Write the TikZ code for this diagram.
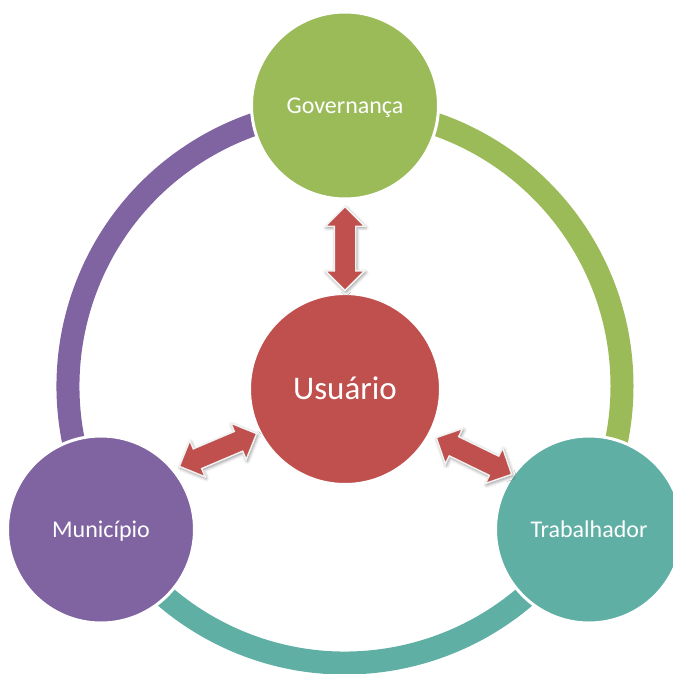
\documentclass[tikz,border=0pt]{standalone}
\usepackage{fontspec}
\setmainfont{Carlito}
\usetikzlibrary{shapes.arrows,shadows.blur}
\definecolor{cgreen}{HTML}{9BBB59}
\definecolor{cpurple}{HTML}{8064A2}
\definecolor{cteal}{HTML}{5FAFA4}
\definecolor{cred}{HTML}{C0504D}
\begin{document}
\begin{tikzpicture}[x=0.75pt,y=0.75pt,
  ringarc/.style={line width=17.25pt},
  bubble/.style={circle, draw=white, line width=2.25pt, minimum size=140.25pt, inner sep=0pt, text=white, text height=11.6pt, text depth=0pt, font=\fontsize{18}{22}\selectfont},
  dblarrow/.style={double arrow, fill=cred, draw=white!90!gray, line width=1.1pt, minimum height=63pt, inner xsep=0pt, inner ysep=7.5pt, double arrow head extend=6.75pt, double arrow tip angle=90, blur shadow={shadow xshift=0.8pt, shadow yshift=-1.2pt, shadow blur radius=2.5pt, shadow opacity=45}}]
\path[use as bounding box] (0,0) rectangle (673,-674);
\clip (0,0) rectangle (673,-674);
\coordinate (ringc) at (345,-386);
\draw[ringarc, cgreen] ([shift={(90:277)}]ringc) arc[start angle=90, end angle=-30, radius=277];
\draw[ringarc, cteal] ([shift={(-30:277)}]ringc) arc[start angle=-30, end angle=-150, radius=277];
\draw[ringarc, cpurple] ([shift={(210:277)}]ringc) arc[start angle=210, end angle=90, radius=277];
\node[bubble, fill=cgreen] (gov) at (345,-105.5) {Governança};
\node[bubble, fill=cpurple] (mun) at (101,-529.5) {Município};
\node[bubble, fill=cteal] (trab) at (589,-529.5) {Trabalhador};
\node[bubble, fill=cred, minimum size=143.25pt, text height=15.75pt, font=\fontsize{24.75}{30}\selectfont] (usu) at (345,-389) {Usuário};
\node[dblarrow, rotate=90] (a1) at (345,-248.5) {};
\node[dblarrow, rotate=23] (a2) at (218,-450) {};
\node[dblarrow, rotate=-26] (a3) at (474,-456) {};
\end{tikzpicture}
\end{document}
